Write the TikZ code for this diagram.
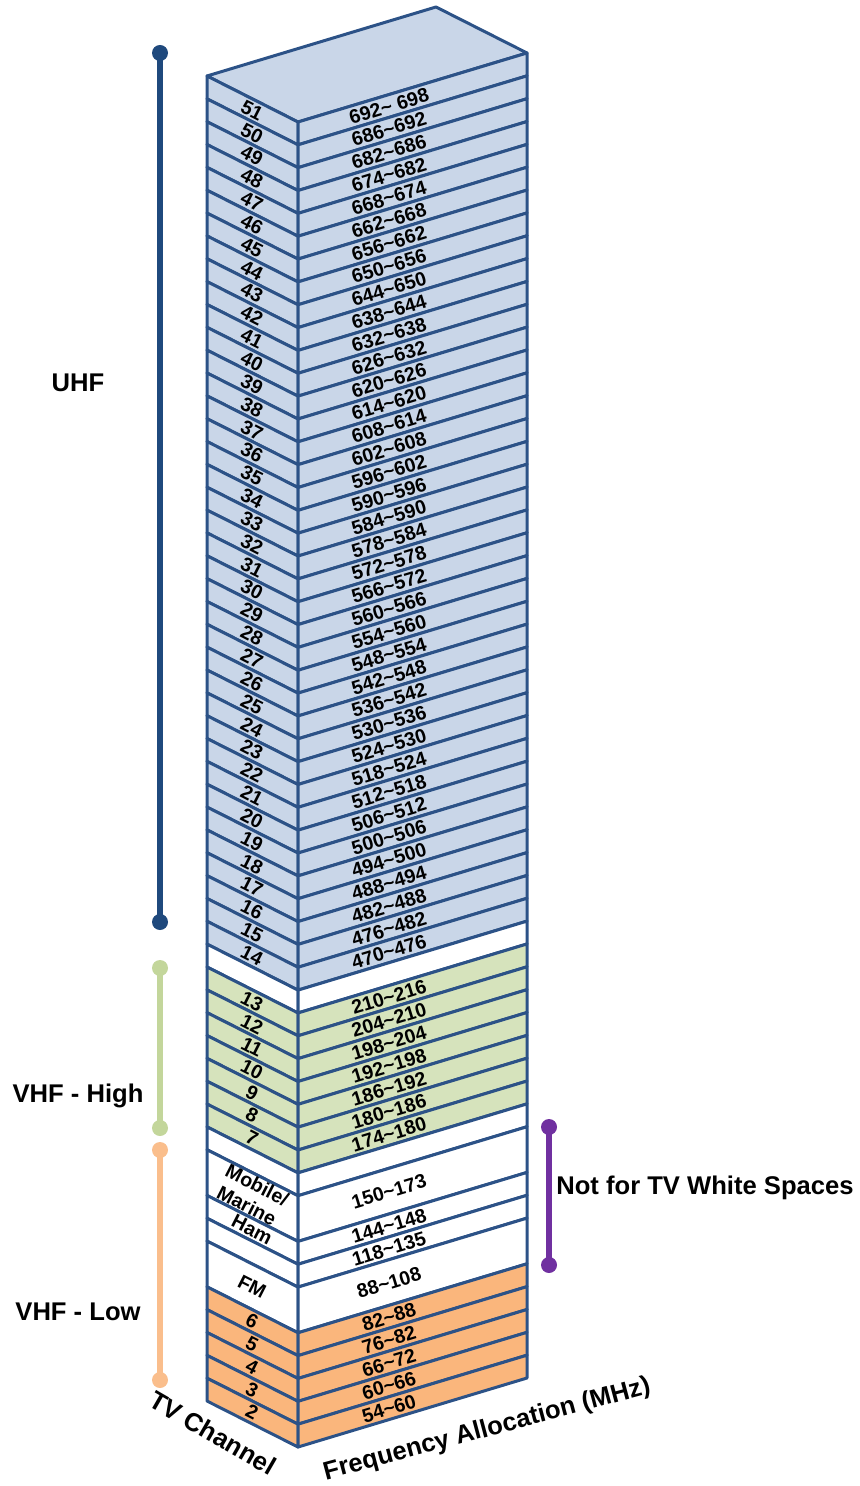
\documentclass[tikz,border=0pt]{standalone}
\usepackage{fontspec}
\setmainfont{Liberation Sans}
\newcommand\tlde{\textasciitilde}
\definecolor{edge}{RGB}{44,82,135}
\definecolor{bluefill}{RGB}{201,214,232}
\definecolor{greenfill}{RGB}{214,227,188}
\definecolor{orangefill}{RGB}{250,182,124}
\definecolor{uhfcol}{RGB}{31,73,125}
\definecolor{vhcol}{RGB}{195,214,155}
\definecolor{vlcol}{RGB}{250,190,140}
\definecolor{purplecol}{RGB}{112,48,160}
\tikzset{
  face/.style={draw=edge,line width=1.5pt,line join=round},
  llab/.style={font=\fontsize{9.8}{11.5}\selectfont\bfseries,inner sep=0pt,rotate=-27,align=center},
  rlab/.style={font=\fontsize{9.8}{11.5}\selectfont\bfseries,inner sep=0pt,rotate=17},
  biglab/.style={font=\fontsize{12.8}{15}\selectfont\bfseries,inner sep=0pt},
  bandbar/.style={line width=3pt},
}
\newcommand\slabfaces[3]{%
  \pgfmathsetmacro\ya{122+#1*22.845}%
  \pgfmathsetmacro\yb{122+(#1+#2)*22.845}%
  \draw[face,fill=#3] (207,\ya-46) -- (298,\ya) -- (298,\yb) -- (207,\yb-46) -- cycle;
  \draw[face,fill=#3] (298,\ya) -- (527,\ya-69) -- (527,\yb-69) -- (298,\yb) -- cycle;
}
\begin{document}
\begin{tikzpicture}[x=0.5pt,y=-0.5pt]
\useasboundingbox (0,0) rectangle (860,1486);
% top face
\draw[face,fill=bluefill] (207,76) -- (436,7) -- (527,53) -- (298,122) -- cycle;
% slabs
\foreach \k in {0,...,37} {\slabfaces{\k}{1}{bluefill}}
\slabfaces{38}{1}{white}
\foreach \k in {39,...,45} {\slabfaces{\k}{1}{greenfill}}
\slabfaces{46}{1}{white}
\slabfaces{47}{2}{white}
\slabfaces{49}{1}{white}
\slabfaces{50}{1}{white}
\slabfaces{51}{2}{white}
\foreach \k in {53,...,57} {\slabfaces{\k}{1}{orangefill}}
% labels for single-unit channel slabs
\foreach \k/\l/\r in {
 0/51/692\tlde\ 698, 1/50/686\tlde692, 2/49/682\tlde686, 3/48/674\tlde682,
 4/47/668\tlde674, 5/46/662\tlde668, 6/45/656\tlde662, 7/44/650\tlde656,
 8/43/644\tlde650, 9/42/638\tlde644, 10/41/632\tlde638, 11/40/626\tlde632,
 12/39/620\tlde626, 13/38/614\tlde620, 14/37/608\tlde614, 15/36/602\tlde608,
 16/35/596\tlde602, 17/34/590\tlde596, 18/33/584\tlde590, 19/32/578\tlde584,
 20/31/572\tlde578, 21/30/566\tlde572, 22/29/560\tlde566, 23/28/554\tlde560,
 24/27/548\tlde554, 25/26/542\tlde548, 26/25/536\tlde542, 27/24/530\tlde536,
 28/23/524\tlde530, 29/22/518\tlde524, 30/21/512\tlde518, 31/20/506\tlde512,
 32/19/500\tlde506, 33/18/494\tlde500, 34/17/488\tlde494, 35/16/482\tlde488,
 36/15/476\tlde482, 37/14/470\tlde476,
 39/13/210\tlde216, 40/12/204\tlde210, 41/11/198\tlde204, 42/10/192\tlde198,
 43/9/186\tlde192, 44/8/180\tlde186, 45/7/174\tlde180,
 53/6/82\tlde88, 54/5/76\tlde82, 55/4/66\tlde72, 56/3/60\tlde66, 57/2/54\tlde60} {
  \pgfmathsetmacro\yc{122+(\k+0.5)*22.845}
  \node[llab] (ch\l) at (252,\yc-23.25) {\l};
  \node[rlab] (fr\l) at (389,\yc-27.1) {\r};
}
% non-TV bands
\node[llab] (mob) at (252,{122+48*22.845-23.25}) {Mobile/\\Marine};
\node[rlab] (frmob) at (389,{122+48*22.845-27.1}) {150\tlde173};
\node[llab] (ham) at (252,{122+49.5*22.845-23.25}) {Ham};
\node[rlab] (frham) at (389,{122+49.5*22.845-27.1}) {144\tlde148};
\node[rlab] (frair) at (389,{122+50.5*22.845-27.1}) {118\tlde135};
\node[llab] (fm) at (252,{122+52*22.845-23.25}) {FM};
\node[rlab] (frfm) at (389,{122+52*22.845-27.1}) {88\tlde108};
% axis labels
\node[biglab,rotate=-30] (tvch) at (213,1433) {TV Channel};
\node[biglab,rotate=15] (freq) at (487,1430) {Frequency Allocation (MHz)};
% band bars
\coordinate (uT) at (160,53); \coordinate (uB) at (160,922);
\coordinate (hT) at (160,968); \coordinate (hB) at (160,1128);
\coordinate (lT) at (160,1150); \coordinate (lB) at (160,1380);
\coordinate (pT) at (549,1127); \coordinate (pB) at (549,1265);
\draw[bandbar,uhfcol] (uT) -- (uB);
\fill[uhfcol] (uT) circle[radius=4pt] (uB) circle[radius=4pt];
\draw[bandbar,vhcol] (hT) -- (hB);
\fill[vhcol] (hT) circle[radius=4pt] (hB) circle[radius=4pt];
\draw[bandbar,vlcol] (lT) -- (lB);
\fill[vlcol] (lT) circle[radius=4pt] (lB) circle[radius=4pt];
\draw[bandbar,purplecol] (pT) -- (pB);
\fill[purplecol] (pT) circle[radius=4pt] (pB) circle[radius=4pt];
\node[biglab] (uhf) at (78,383) {UHF};
\node[biglab] (vhfh) at (78,1096) {VHF - High};
\node[biglab] (vhfl) at (78,1312) {VHF - Low};
\node[biglab] (notws) at (705,1188) {Not for TV White Spaces};
\end{tikzpicture}
\end{document}
